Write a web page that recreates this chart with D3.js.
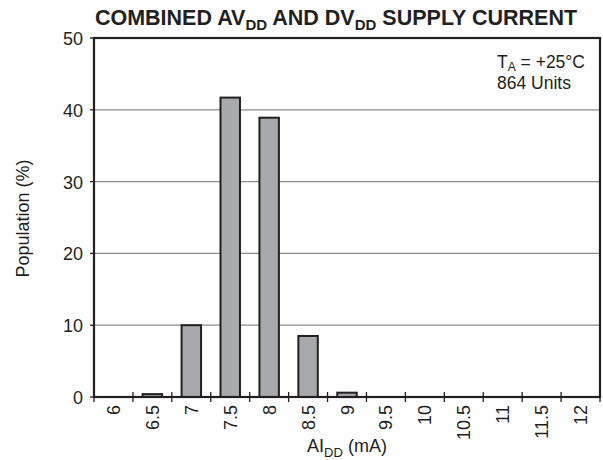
<!DOCTYPE html>
<html>
<head>
  <meta charset="utf-8">
  <title>Supply current histogram</title>
  <script src="https://d3js.org/d3.v7.min.js"></script>
  <style>
    body { margin: 0; background: #fff; font-family: "Liberation Sans", Arial, sans-serif; }
    text { fill: #231f20; }
  </style>
</head>
<body>
<div id="vis"></div>
<script>
  var categorias = ["6", "6.5", "7", "7.5", "8", "8.5", "9", "9.5", "10", "10.5", "11", "11.5", "12"];
  var populacao = [0, 0.4, 10, 41.7, 38.9, 8.5, 0.6, 0, 0, 0, 0, 0, 0];
  var ticksY = [0, 10, 20, 30, 40, 50];

  var largura = 603, altura = 460;
  var margin = { top: 38, right: 3, bottom: 63, left: 94 },
    larguraVis = largura - margin.left - margin.right,
    alturaVis = altura - margin.top - margin.bottom;

  var svg = d3.select("#vis").append("svg")
    .attr("width", largura)
    .attr("height", altura);

  var g = svg.append("g")
    .attr("transform", "translate(" + margin.left + "," + margin.top + ")");

  var x = d3.scaleBand()
    .domain(categorias)
    .range([0, larguraVis])
    .paddingInner(0.5)
    .paddingOuter(0.25);

  // bands without padding, for tick positions at the edges
  var xEdge = d3.scaleBand().domain(categorias).range([0, larguraVis]);

  var y = d3.scaleLinear()
    .domain([0, 50])
    .range([alturaVis, 0]);

  // grid
  g.selectAll(".grid")
    .data(ticksY.slice(1, -1))
    .enter().append("line")
    .attr("x1", 0).attr("x2", larguraVis)
    .attr("y1", d => y(d)).attr("y2", d => y(d))
    .attr("stroke", "#8a8c8e")
    .attr("stroke-width", 1.2);

  // bars
  g.selectAll(".bar")
    .data(populacao.map((v, i) => ({ cat: categorias[i], v: v })).filter(d => d.v > 0))
    .enter().append("rect")
    .attr("x", d => x(d.cat))
    .attr("width", x.bandwidth())
    .attr("y", d => y(d.v))
    .attr("height", d => alturaVis - y(d.v))
    .attr("fill", "#a7a9ac")
    .attr("stroke", "#231f20")
    .attr("stroke-width", 2);

  // frame
  g.append("rect")
    .attr("x", 0).attr("y", 0)
    .attr("width", larguraVis).attr("height", alturaVis)
    .attr("fill", "none")
    .attr("stroke", "#231f20")
    .attr("stroke-width", 2.2);

  // x ticks crossing the axis, at band edges
  var bordas = categorias.map(c => xEdge(c)).concat([larguraVis]);
  g.selectAll(".xtick")
    .data(bordas)
    .enter().append("line")
    .attr("x1", d => d).attr("x2", d => d)
    .attr("y1", alturaVis - 5).attr("y2", alturaVis + 5)
    .attr("stroke", "#231f20")
    .attr("stroke-width", 1.3);

  // x labels, rotated
  g.selectAll(".xlab")
    .data(categorias)
    .enter().append("text")
    .attr("transform", d => "translate(" + (xEdge(d) + xEdge.bandwidth() / 2 + 6.5) + "," + (alturaVis + 8) + ") rotate(-90)")
    .attr("text-anchor", "end")
    .style("font-size", "18px")
    .text(d => d);

  // y ticks
  g.selectAll(".ytick")
    .data(ticksY)
    .enter().append("line")
    .attr("x1", -4).attr("x2", 0)
    .attr("y1", d => y(d)).attr("y2", d => y(d))
    .attr("stroke", "#231f20")
    .attr("stroke-width", 1.3);

  g.selectAll(".ylab")
    .data(ticksY)
    .enter().append("text")
    .attr("x", -11)
    .attr("y", d => y(d) + 7)
    .attr("text-anchor", "end")
    .style("font-size", "18px")
    .text(d => d);

  // axis titles
  svg.append("text")
    .attr("transform", "translate(29," + (margin.top + alturaVis / 2 + 1) + ") rotate(-90)")
    .attr("text-anchor", "middle")
    .style("font-size", "18px")
    .text("Population (%)");

  var tx = svg.append("text")
    .attr("x", margin.left + larguraVis / 2)
    .attr("y", 452)
    .attr("text-anchor", "middle")
    .style("font-size", "18px");
  tx.append("tspan").text("AI");
  tx.append("tspan").attr("dy", 5).style("font-size", "13px").text("DD");
  tx.append("tspan").attr("dy", -5).text(" (mA)");

  // title
  var tt = svg.append("text")
    .attr("x", 336)
    .attr("y", 25)
    .attr("text-anchor", "middle")
    .style("font-size", "21.5px")
    .style("font-weight", "bold");
  tt.append("tspan").text("COMBINED AV");
  tt.append("tspan").attr("dy", 5).style("font-size", "15px").text("DD");
  tt.append("tspan").attr("dy", -5).text(" AND DV");
  tt.append("tspan").attr("dy", 5).style("font-size", "15px").text("DD");
  tt.append("tspan").attr("dy", -5).text(" SUPPLY CURRENT");

  // annotation
  var a1 = svg.append("text")
    .attr("x", 497).attr("y", 68)
    .style("font-size", "17.5px");
  a1.append("tspan").text("T");
  a1.append("tspan").attr("dy", 3).style("font-size", "12px").text("A");
  a1.append("tspan").attr("dy", -3).text(" = +25°C");
  svg.append("text")
    .attr("x", 497).attr("y", 89)
    .style("font-size", "17.5px")
    .text("864 Units");
</script>
</body>
</html>
